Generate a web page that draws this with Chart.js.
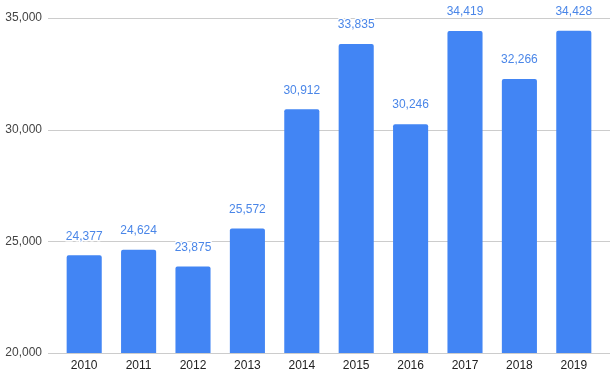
<!DOCTYPE html>
<html>
<head>
<meta charset="utf-8">
<script src="https://cdn.jsdelivr.net/npm/chart.js@4"></script>
<style>
  html, body { margin:0; padding:0; background:#fff; }
  #wrap { width:614px; height:389px; }
</style>
</head>
<body>
<div id="wrap"><canvas id="c" width="614" height="389"></canvas></div>
<script>
const years  = ["2010","2011","2012","2013","2014","2015","2016","2017","2018","2019"];
const values = [24377, 24624, 23875, 25572, 30912, 33835, 30246, 34419, 32266, 34428];
const yTicks = [20000, 25000, 30000, 35000];

const barColor   = "#4285f4";
const labelColor = "#4a86e8";
const fmt = v => v.toLocaleString("en-US");

// gridlines run a bit past the plot area on both sides
const gridPlugin = {
  id: "wideGrid",
  beforeDatasetsDraw(chart){
    const { ctx } = chart;
    const y = chart.scales.y;
    ctx.save();
    ctx.strokeStyle = "#cccccc";
    ctx.lineWidth = 1;
    yTicks.forEach(t => {
      const py = Math.round(y.getPixelForValue(t)) + 0.5;
      ctx.beginPath();
      ctx.moveTo(48, py);
      ctx.lineTo(610, py);
      ctx.stroke();
    });
    ctx.restore();
  }
};

const labelPlugin = {
  id: "barLabels",
  afterDatasetsDraw(chart){
    const { ctx } = chart;
    const meta = chart.getDatasetMeta(0);
    ctx.save();
    ctx.font = "12px Arial, 'Liberation Sans', sans-serif";
    ctx.textAlign = "center";
    ctx.textBaseline = "middle";
    ctx.lineJoin = "round";
    meta.data.forEach((bar, i) => {
      const txt = fmt(values[i]);
      const ty = bar.y - 19;
      ctx.strokeStyle = "#ffffff";
      ctx.lineWidth = 3;
      ctx.strokeText(txt, bar.x, ty);
      ctx.fillStyle = labelColor;
      ctx.fillText(txt, bar.x, ty);
    });
    ctx.restore();
  }
};

new Chart(document.getElementById("c"), {
  type: "bar",
  data: {
    labels: years,
    datasets: [{
      data: values,
      backgroundColor: barColor,
      borderRadius: 2,
      borderSkipped: "bottom",
      barPercentage: 0.645,
      categoryPercentage: 1
    }]
  },
  options: {
    responsive: false,
    animation: false,
    layout: { padding: { top: 18, right: 13, bottom: 0, left: 0 } },
    plugins: { legend: { display:false }, tooltip: { enabled:false } },
    scales: {
      x: {
        grid: { display:false, drawTicks:false },
        border: { display:false },
        ticks: {
          color: "#222222",
          padding: 5,
          font: { family: "Arial, 'Liberation Sans', sans-serif", size: 12 }
        },
        afterFit(s){ s.height = 36; }
      },
      y: {
        min: 20000,
        max: 35000,
        afterBuildTicks(s){ s.ticks = yTicks.map(v => ({ value: v })); },
        grid: { color: "transparent", drawTicks: true, tickLength: 9 },
        border: { display:false },
        ticks: {
          color: "#444444",
          padding: 6,
          callback: v => fmt(v),
          font: { family: "Arial, 'Liberation Sans', sans-serif", size: 12 }
        },
        afterFit(s){ s.width = 57; }
      }
    }
  },
  plugins: [gridPlugin, labelPlugin]
});
</script>
</body>
</html>
